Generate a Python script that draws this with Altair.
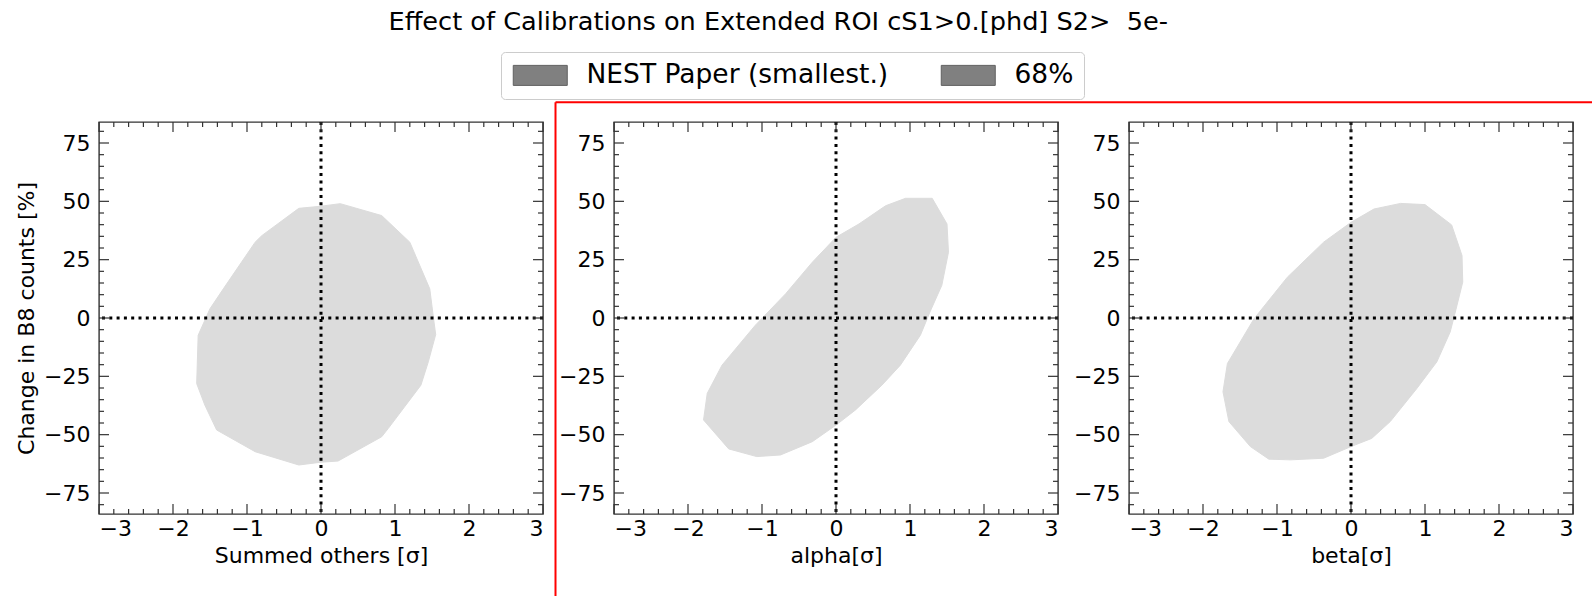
import altair as alt
import pandas as pd

FONT = "DejaVu Sans"
TITLE = "Effect of Calibrations on Extended ROI cS1>0.[phd] S2>\u00a0\u00a05e-"
Y_TITLE = "Change in B8 counts [%]"
X_TITLES = ["Summed others [σ]", "alpha[σ]", "beta[σ]"]
LEGEND_LABELS = ["NEST Paper (smallest.)", "68%"]

# 68% contour outlines (x in sigma, y in %)
p1_x = [-0.30, 0.00, 0.26, 0.82, 1.20, 1.47, 1.52, 1.55, 1.45, 1.35, 0.91, 0.82, 0.23, 0.00,
        -0.30, -0.89, -1.41, -1.57, -1.68, -1.66, -1.50, -1.32, -0.89, -0.80]
p1_y = [47.0, 47.9, 49.0, 43.9, 32.5, 12.5, 0.0, -7.1, -18.8, -28.8, -47.3, -50.9, -61.3, -61.8,
        -63.0, -57.3, -48.0, -37.3, -28.1, -7.4, 4.0, 12.5, 32.5, 35.3]

p2_x = [0.94, 1.30, 1.50, 1.52, 1.43, 1.27, 1.14, 0.87, 0.62, 0.26, 0.00, -0.32, -0.75, -1.07,
        -1.45, -1.79, -1.74, -1.54, -1.09, -0.68, -0.32, 0.00, 0.31, 0.67]
p2_y = [51.3, 51.3, 40.3, 28.2, 14.0, 2.6, -7.4, -20.2, -28.8, -39.5, -45.9, -53.0, -58.7, -59.4,
        -56.1, -43.7, -32.3, -20.2, -3.1, 10.4, 23.9, 34.6, 40.3, 48.1]

p3_x = [0.67, 1.00, 1.36, 1.50, 1.51, 1.41, 1.34, 1.16, 0.89, 0.53, 0.28, 0.00, -0.37, -0.82,
        -1.11, -1.36, -1.65, -1.73, -1.67, -1.31, -0.86, -0.37, 0.00, 0.31]
p3_y = [49.1, 48.6, 39.9, 26.8, 15.4, 2.6, -6.0, -18.8, -30.2, -44.4, -51.6, -55.1, -60.1, -60.8,
        -60.5, -55.1, -44.4, -31.6, -19.5, -0.3, 17.5, 32.5, 41.0, 46.7]

ZERO = [0]
X_MAJOR = [-3, -2, -1, 0, 1, 2, 3]
Y_MAJOR = [-75, -50, -25, 0, 25, 50, 75]
X_MINOR = [round(-3 + 0.2 * i, 1) for i in range(31) if i % 5 != 0]
Y_MINOR = [v for v in range(-80, 81, 5) if v % 25 != 0]
X_DOMAIN = [-3, 3]
Y_DOMAIN = [-84, 84]

W, H = 444, 392
FILL = "#dcdcdc"
TICK = "#333333"
MAJOR_LEN, MINOR_LEN = 10, 5


def make_panel(xs, ys, xtitle, first):
    xscale = alt.Scale(domain=X_DOMAIN, nice=False, zero=False)
    yscale = alt.Scale(domain=Y_DOMAIN, nice=False, zero=False)
    xaxis = alt.Axis(values=X_MAJOR, format="d", title=xtitle, ticks=False, tickSize=0,
                     domain=False, grid=False, labelPadding=4, titlePadding=6,
                     labelExpr="replace(datum.label, '-', '\u2212')")
    yaxis = alt.Axis(values=Y_MAJOR, format="d", title=(Y_TITLE if first else None), ticks=False,
                     tickSize=0, domain=False, grid=False, labelPadding=9, titlePadding=5,
                     labelExpr="replace(datum.label, '-', '\u2212')")

    def X(f):
        return alt.X(f, scale=xscale, axis=xaxis)

    def Y(f):
        return alt.Y(f, scale=yscale, axis=yaxis)

    df = pd.DataFrame({"x": xs, "y": ys, "i": list(range(len(xs)))})
    layers = [
        alt.Chart(df).mark_line(interpolate="linear-closed", fill=FILL, stroke=FILL,
                                strokeWidth=1).encode(x=X("x:Q"), y=Y("y:Q"), order="i:Q")
    ]
    zdf = pd.DataFrame({"v": ZERO})
    dot = dict(color="black", strokeWidth=3, strokeDash=[3, 4.3])
    layers.append(alt.Chart(zdf).mark_rule(**dot).encode(y=Y("v:Q")))
    layers.append(alt.Chart(zdf).mark_rule(**dot).encode(x=X("v:Q")))

    for vals, L in [(X_MAJOR, MAJOR_LEN), (X_MINOR, MINOR_LEN)]:
        d = pd.DataFrame({"v": vals})
        layers.append(alt.Chart(d).mark_rule(color=TICK, strokeWidth=1.2).encode(
            x=X("v:Q"), y=alt.value(H), y2=alt.value(H - L)))
        layers.append(alt.Chart(d).mark_rule(color=TICK, strokeWidth=1.2).encode(
            x=X("v:Q"), y=alt.value(0), y2=alt.value(L)))
    for vals, L in [(Y_MAJOR, MAJOR_LEN), (Y_MINOR, MINOR_LEN)]:
        d = pd.DataFrame({"v": vals})
        layers.append(alt.Chart(d).mark_rule(color=TICK, strokeWidth=1.2).encode(
            y=Y("v:Q"), x=alt.value(0), x2=alt.value(L)))
        layers.append(alt.Chart(d).mark_rule(color=TICK, strokeWidth=1.2).encode(
            y=Y("v:Q"), x=alt.value(W), x2=alt.value(W - L)))

    if first:
        ldf = pd.DataFrame({"lab": LEGEND_LABELS, "x": [0, 0], "y": [0, 0]})
        layers.append(alt.Chart(ldf).mark_square(opacity=0, size=1).encode(
            x=X("x:Q"), y=Y("y:Q"),
            color=alt.Color("lab:N", scale=alt.Scale(domain=LEGEND_LABELS, range=["#808080", "#808080"]),
                            legend=alt.Legend(title=None, orient="none", legendX=402, legendY=-70,
                                              direction="horizontal",
                                              symbolType="M-2.7,-1H2.7V1H-2.7Z", symbolSize=400,
                                              symbolOpacity=1, symbolStrokeColor="#606060",
                                              symbolStrokeWidth=1, symbolOffset=16,
                                              labelOffset=33, columnPadding=50,
                                              labelFont=FONT, labelFontSize=26.5, labelColor="black",
                                              labelLimit=600, padding=10, strokeColor="#cccccc",
                                              fillColor="white", cornerRadius=4))))
    return alt.layer(*layers).properties(width=W, height=H)


p1 = make_panel(p1_x, p1_y, X_TITLES[0], True)
p2 = make_panel(p2_x, p2_y, X_TITLES[1], False)
p3 = make_panel(p3_x, p3_y, X_TITLES[2], False)

# red highlight frame (annotation in the picture)
red_v = alt.Chart(pd.DataFrame({"v": ZERO})).mark_rule(color="#ff0000", strokeWidth=2).encode(
    x=alt.value(-58.5), y=alt.value(-19.8), y2=alt.value(474))
red_h = alt.Chart(pd.DataFrame({"v": ZERO})).mark_rule(color="#ff0000", strokeWidth=2).encode(
    x=alt.value(-58.5), x2=alt.value(978), y=alt.value(-19.8))
p2 = alt.layer(p2, red_v, red_h)

chart = alt.hconcat(p1, p2, p3, spacing=71, bounds="flush").properties(
    title=alt.TitleParams(TITLE, font=FONT, fontSize=25.6, fontWeight="normal", color="black",
                          anchor="middle", offset=15.5, dx=-26),
    padding={"left": 14, "top": 10, "right": 0, "bottom": 0},
    background="white",
).configure_view(stroke="#333333", strokeWidth=1.4).configure_axis(
    labelFont=FONT, labelFontSize=22, labelColor="black",
    titleFont=FONT, titleFontSize=22, titleColor="black", titleFontWeight="normal"
)

chart.save("out.html", embed_options={"renderer": "svg", "actions": False})
